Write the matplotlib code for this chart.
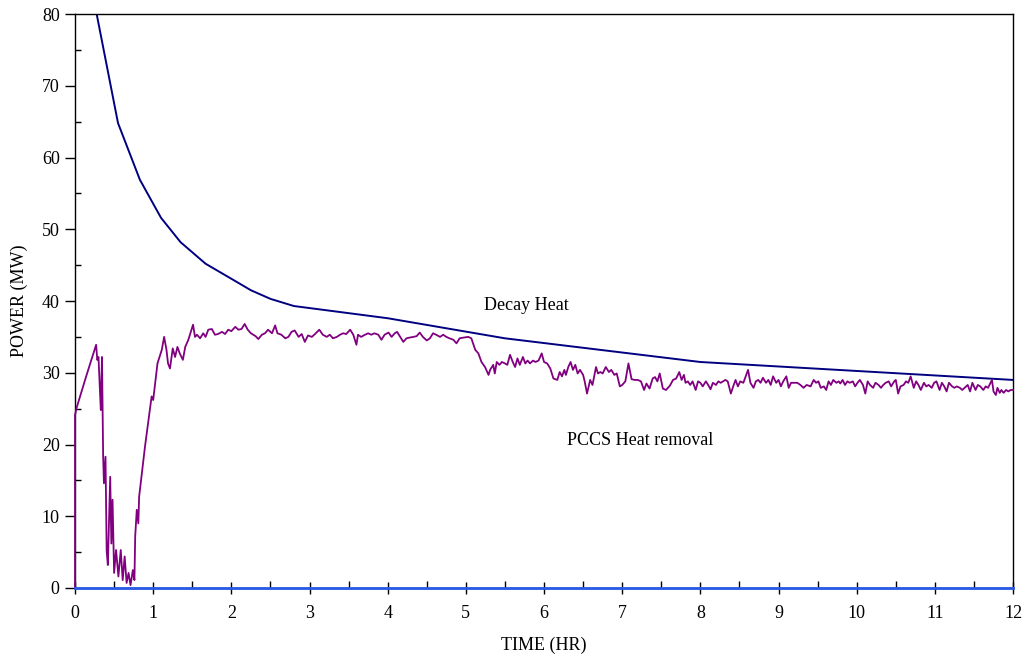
import numpy as np
import matplotlib.pyplot as plt

plt.rcParams['font.family'] = ['Liberation Serif', 'DejaVu Serif']

# decay heat curve (hr, MW)
decay_t = [0.25, 0.55, 0.83, 1.1, 1.35, 1.67, 2.0, 2.25, 2.5, 2.8, 4.0, 5.5, 8.0, 12.0]
decay_p = [81.5, 64.8, 56.9, 51.6, 48.2, 45.2, 43.1, 41.5, 40.3, 39.3, 37.6, 34.8, 31.5, 29.0]

# PCCS heat removal (hr, MW)
pccs_t = [0.0, 0.0, 0.02, 0.14, 0.21, 0.27, 0.285, 0.30, 0.33, 0.345, 0.36, 0.37, 0.39, 0.405,
          0.42, 0.45, 0.465, 0.48, 0.50, 0.525, 0.555, 0.585, 0.61, 0.635, 0.66, 0.685, 0.71,
          0.74, 0.76, 0.77, 0.79, 0.81, 0.82, 0.85, 0.895, 0.94, 0.98, 1.0, 1.02, 1.055, 1.11,
          1.14, 1.17, 1.19, 1.215, 1.25, 1.28, 1.31, 1.34, 1.38, 1.41, 1.45, 1.49, 1.51, 1.535,
          1.56, 1.6, 1.64, 1.67, 1.705, 1.75, 1.79, 1.83, 1.88, 1.92, 1.96, 2.0, 2.05, 2.09,
          2.13, 2.17, 2.21, 2.25, 2.31, 2.345, 2.39, 2.43, 2.47, 2.52, 2.56, 2.59, 2.64, 2.69,
          2.73, 2.77, 2.81, 2.86, 2.9, 2.94, 2.98, 3.03, 3.07, 3.125, 3.17, 3.22, 3.26, 3.3,
          3.35, 3.39, 3.43, 3.47, 3.52, 3.56, 3.6, 3.62, 3.66, 3.71, 3.75, 3.79, 3.83, 3.88,
          3.92, 3.96, 4.01, 4.05, 4.09, 4.12, 4.16, 4.2, 4.24, 4.28, 4.33, 4.37, 4.41, 4.45,
          4.5, 4.54, 4.58, 4.62, 4.67, 4.71, 4.75, 4.79, 4.84, 4.88, 4.92, 4.97, 5.03, 5.07,
          5.12, 5.16, 5.2, 5.245, 5.29, 5.31, 5.35, 5.37, 5.395, 5.43, 5.46, 5.5, 5.53, 5.565,
          5.6, 5.63, 5.66, 5.69, 5.73, 5.76, 5.79, 5.82, 5.86, 5.89, 5.93, 5.97, 6.0, 6.04,
          6.08, 6.12, 6.17, 6.2, 6.23, 6.26, 6.28, 6.31, 6.34, 6.37, 6.4, 6.43, 6.46, 6.5,
          6.52, 6.55, 6.59, 6.62, 6.665, 6.69, 6.72, 6.75, 6.79, 6.83, 6.86, 6.9, 6.93, 6.97,
          7.0, 7.04, 7.08, 7.12, 7.16, 7.2, 7.24, 7.28, 7.31, 7.35, 7.39, 7.42, 7.45, 7.48,
          7.52, 7.56, 7.61, 7.65, 7.69, 7.73, 7.76, 7.79, 7.81, 7.84, 7.87, 7.9, 7.94, 7.97,
          8.0, 8.03, 8.07, 8.1, 8.13, 8.16, 8.2, 8.23, 8.26, 8.29, 8.32, 8.35, 8.39, 8.42,
          8.45, 8.48, 8.51, 8.55, 8.58, 8.61, 8.64, 8.68, 8.71, 8.74, 8.77, 8.8, 8.84, 8.87,
          8.9, 8.93, 8.97, 9.0, 9.03, 9.06, 9.1, 9.13, 9.16, 9.19, 9.24, 9.28, 9.32, 9.36,
          9.41, 9.45, 9.48, 9.51, 9.54, 9.58, 9.61, 9.64, 9.67, 9.7, 9.74, 9.77, 9.79, 9.82,
          9.85, 9.88, 9.91, 9.95, 9.98, 10.01, 10.04, 10.08, 10.11, 10.14, 10.17, 10.21, 10.24,
          10.28, 10.31, 10.34, 10.37, 10.41, 10.44, 10.48, 10.5, 10.53, 10.56, 10.6, 10.63,
          10.66, 10.69, 10.73, 10.76, 10.79, 10.82, 10.86, 10.89, 10.92, 10.96, 10.99, 11.02,
          11.06, 11.09, 11.12, 11.15, 11.18, 11.22, 11.25, 11.28, 11.32, 11.35, 11.38, 11.42,
          11.45, 11.48, 11.52, 11.55, 11.58, 11.62, 11.65, 11.68, 11.73, 11.75, 11.78, 11.8,
          11.83, 11.85, 11.88, 11.91, 11.94, 11.97, 12.0]
pccs_p = [0.0, 24.1, 25.1, 29.4, 31.8, 33.9, 31.8, 32.2, 24.8, 32.2, 18.3, 14.6, 18.3, 5.1,
          3.2, 15.5, 6.2, 12.3, 2.1, 5.3, 1.6, 5.3, 1.1, 4.4, 0.7, 2.1, 0.4,
          2.5, 1.1, 7.2, 10.9, 9.0, 12.7, 15.5, 19.7, 23.4, 26.7, 26.2, 28.1, 31.3, 33.2,
          35.0, 33.2, 31.3, 30.6, 33.4, 32.2, 33.6, 32.7, 31.8, 33.6, 34.6, 36.0, 36.7, 35.0,
          35.3, 34.8, 35.5, 35.0, 36.0, 36.1, 35.3, 35.4, 35.7, 35.4, 36.0, 35.8, 36.4, 36.0,
          36.1, 36.8, 36.0, 35.5, 35.1, 34.7, 35.3, 35.5, 36.0, 35.5, 36.6, 35.5, 35.3, 34.8,
          35.0, 35.7, 35.9, 35.0, 35.4, 34.3, 35.2, 35.0, 35.4, 36.0, 35.3, 35.0, 35.3, 34.8,
          35.0, 35.3, 35.5, 35.4, 36.0, 35.3, 33.9, 35.3, 35.0, 35.3, 35.5, 35.3, 35.5, 35.3,
          34.6, 35.3, 35.6, 35.0, 35.5, 35.7, 35.0, 34.3, 34.8, 34.9, 35.0, 35.1, 35.6, 35.0,
          34.5, 34.8, 35.5, 35.3, 35.0, 35.3, 35.0, 34.8, 34.6, 34.1, 34.8, 34.9, 35.0, 34.8,
          33.2, 32.7, 31.5, 30.8, 29.7, 30.4, 31.1, 29.9, 31.5, 31.1, 31.5, 31.3, 31.1, 32.5,
          31.5, 30.8, 32.0, 31.1, 32.2, 31.3, 31.7, 31.3, 31.7, 31.5, 31.7, 32.7, 31.5, 31.3,
          30.6, 29.2, 29.0, 30.1, 29.5, 30.4, 29.7, 30.8, 31.5, 30.4, 31.1, 29.9, 30.4, 29.7,
          28.8, 27.1, 29.0, 28.3, 30.8, 29.9, 30.1, 29.9, 30.8, 30.1, 30.4, 29.7, 29.9, 28.1,
          28.3, 28.8, 31.3, 29.1, 29.0, 29.0, 28.8, 27.6, 28.5, 27.8, 29.2, 29.4, 28.8, 29.9,
          27.8, 27.6, 28.2, 29.0, 29.2, 30.1, 29.0, 29.7, 28.6, 28.8, 28.3, 28.8, 27.6, 28.8,
          28.6, 28.1, 28.8, 28.3, 27.7, 28.6, 28.3, 28.8, 28.6, 28.8, 29.0, 28.8, 27.1, 28.1,
          29.0, 28.1, 28.8, 28.6, 29.5, 30.4, 28.6, 27.9, 28.8, 29.0, 28.6, 29.3, 28.6, 29.0,
          28.3, 29.5, 28.6, 29.0, 28.1, 28.8, 29.5, 27.9, 28.6, 28.6, 28.6, 28.3, 27.9, 28.3,
          28.1, 29.0, 28.6, 28.8, 27.9, 28.1, 27.6, 28.8, 28.3, 29.0, 28.6, 28.8, 28.5, 29.0,
          28.3, 28.8, 28.6, 28.8, 28.1, 28.6, 29.0, 28.3, 27.1, 28.8, 28.3, 27.9, 28.6,
          28.3, 27.9, 28.3, 28.6, 28.8, 28.1, 28.8, 29.0, 27.1, 28.1, 28.3, 28.8,
          28.6, 29.5, 27.9, 28.8, 28.3, 27.6, 28.6, 28.1, 28.3, 27.9, 28.6, 28.8,
          27.6, 28.6, 28.1, 27.4, 28.6, 28.1, 27.9, 28.1, 27.9, 27.6, 27.9, 28.3,
          27.4, 28.6, 27.6, 28.3, 28.1, 27.6, 28.1, 27.9, 29.0, 27.4, 26.9, 27.9,
          27.2, 27.6, 27.2, 27.6, 27.4, 27.6, 27.6]

# zero baseline series
base_t = [0.0, 12.0]
base_p = [0.0, 0.0]

fig = plt.figure(figsize=(10.29, 6.71), dpi=100)
ax = fig.add_axes([0.0729, 0.1237, 0.9116, 0.8554])

ax.plot(decay_t, decay_p, color='#000080', lw=1.4)
ax.plot(pccs_t, pccs_p, color='#800080', lw=1.3, clip_on=False, zorder=3)
ax.plot(base_t, base_p, color='#2a5ae6', lw=2.0, clip_on=False, zorder=4)

ax.set_xlim(0, 12)
ax.set_ylim(0, 80)
ax.set_xticks(np.arange(0, 13, 1))
ax.set_xticks(np.arange(0.5, 12, 1), minor=True)
ax.set_yticks(np.arange(0, 81, 10))
ax.set_yticks(np.arange(5, 80, 10), minor=True)
ax.tick_params(axis='x', which='major', direction='inout', length=9, width=1, labelsize=13, pad=8)
ax.tick_params(axis='x', which='minor', direction='in', length=5, width=1)
ax.tick_params(axis='y', which='major', direction='out', length=7, width=1, labelsize=13, pad=4)
ax.tick_params(axis='y', which='minor', direction='in', length=4, width=1)
for s in ax.spines.values():
    s.set_linewidth(1.0)

ax.set_xlabel('TIME (HR)', fontsize=13, labelpad=10)
ax.set_ylabel('POWER (MW)', fontsize=13, labelpad=10)

ax.text(5.77, 39.4, 'Decay Heat', fontsize=13, ha='center', va='center')
ax.text(7.23, 20.5, 'PCCS Heat removal', fontsize=13, ha='center', va='center')

fig.savefig('out.png', dpi=100)
